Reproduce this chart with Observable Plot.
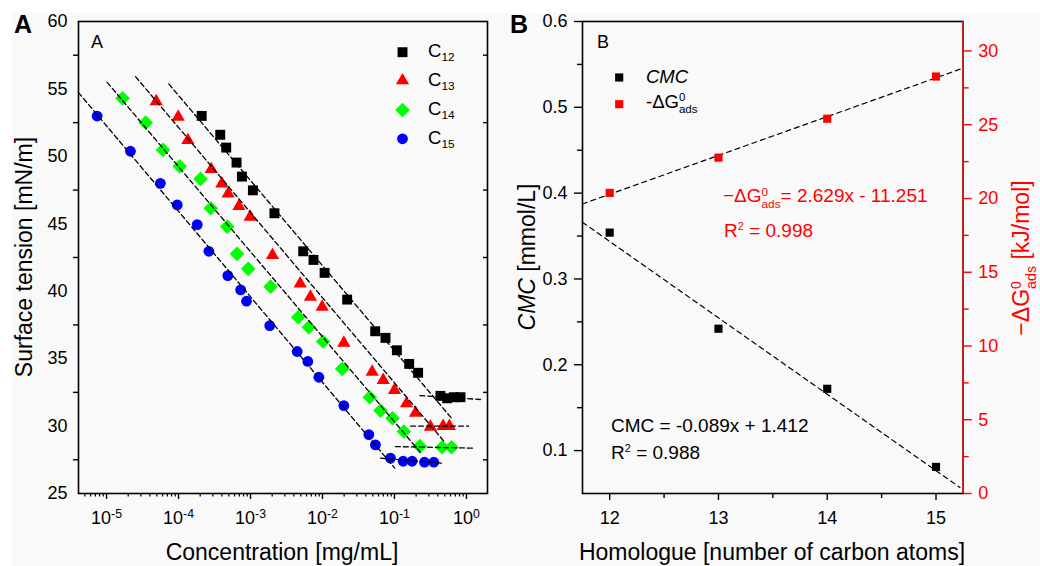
<!DOCTYPE html>
<html><head><meta charset="utf-8">
<script src="https://cdn.jsdelivr.net/npm/d3@7"></script>
<script src="https://cdn.jsdelivr.net/npm/@observablehq/plot@0.6"></script>
<style>
body{margin:0;background:#fff;font-family:"Liberation Sans",Arial,sans-serif;}
#wrap{position:relative;width:1040px;height:566px;overflow:hidden;}
#bg{position:absolute;left:12px;top:13px;right:0;bottom:0;background:#f9f9f9;}
.svgbox{position:absolute;top:0;}
.lbl{position:absolute;white-space:nowrap;line-height:1;transform:translateY(-50%);}
.ctr{position:absolute;white-space:nowrap;line-height:1;transform:translate(-50%,-50%);}
.rot{position:absolute;white-space:nowrap;line-height:1;transform:translate(-50%,-50%) rotate(-90deg);}
.sup{font-size:.62em;vertical-align:.55em;}
.sub{font-size:.62em;vertical-align:-.5em;}
.r2{font-size:.58em;vertical-align:.6em;}
.cs{font-size:.64em;vertical-align:-.4em;}
</style>
</head><body>
<div id="wrap">
<div id="bg"></div>
<div id="pa" class="svgbox" style="left:0"></div>
<div id="pb" class="svgbox" style="left:500px"></div>

<div class="lbl" style="left:14px;top:24px;font-size:25px;font-weight:bold;">A</div>
<div class="lbl" style="left:510px;top:24px;font-size:25px;font-weight:bold;">B</div>
<div class="lbl" style="left:91px;top:42px;font-size:18px;">A</div>
<div class="lbl" style="left:597px;top:42px;font-size:18px;">B</div>

<div class="lbl" style="left:428px;top:53px;font-size:18.5px;">C<span class="cs">12</span></div>
<div class="lbl" style="left:428px;top:82px;font-size:18.5px;">C<span class="cs">13</span></div>
<div class="lbl" style="left:428px;top:111px;font-size:18.5px;">C<span class="cs">14</span></div>
<div class="lbl" style="left:428px;top:140px;font-size:18.5px;">C<span class="cs">15</span></div>

<div class="lbl" style="left:646px;top:77px;font-size:18.5px;font-style:italic;">CMC</div>
<div class="lbl" style="left:646px;top:104px;font-size:18.5px;">-ΔG<span class="sup">0</span><span class="sub" style="margin-left:-0.556em">ads</span></div>

<div class="lbl" style="left:723px;top:198px;font-size:19px;color:#ff0000;">−ΔG<span class="sup">0</span><span class="sub" style="margin-left:-0.556em">ads</span>= 2.629x - 11.251</div>
<div class="lbl" style="left:724px;top:230px;font-size:19px;color:#ff0000;">R<span class="r2">2</span> = 0.998</div>
<div class="lbl" style="left:611px;top:425px;font-size:19px;">CMC = -0.089x + 1.412</div>
<div class="lbl" style="left:611px;top:452px;font-size:19px;">R<span class="r2">2</span> = 0.988</div>

<div class="rot" style="left:24px;top:257px;font-size:23px;">Surface tension [mN/m]</div>
<div class="ctr" style="left:282px;top:552px;font-size:23px;">Concentration [mg/mL]</div>
<div class="rot" style="left:527px;top:257px;font-size:23px;"><i>CMC</i> [mmol/L]</div>
<div class="ctr" style="left:772px;top:552px;font-size:23px;">Homologue [number of carbon atoms]</div>
<div class="rot" style="left:1024px;top:258px;font-size:23px;color:#ff0000;">−ΔG<span class="sup">0</span><span class="sub" style="margin-left:-0.556em">ads</span> [kJ/mol]</div>
</div>

<script>
// ---------- Panel A data ----------
const seriesNames = ["C12", "C13", "C14", "C15"];
const c12Conc = [2.1e-4, 3.8e-4, 4.6e-4, 6.4e-4, 7.6e-4, 1.08e-3, 2.15e-3, 5.4e-3, 7.5e-3, 0.0107, 0.022, 0.054, 0.075, 0.108, 0.16, 0.213, 0.435, 0.54, 0.667, 0.826];
const c12Tension = [53.0, 51.6, 50.65, 49.54, 48.5, 47.48, 45.78, 42.96, 42.32, 41.36, 39.38, 37.03, 36.54, 35.62, 34.61, 33.95, 32.24, 32.06, 32.14, 32.14];
const c13Conc = [4.9e-5, 9.9e-5, 1.35e-4, 2.85e-4, 4.0e-4, 4.9e-4, 6.9e-4, 9.9e-4, 2.02e-3, 4.9e-3, 6.8e-3, 9.9e-3, 0.0198, 0.049, 0.0697, 0.1, 0.147, 0.196, 0.316, 0.474, 0.58];
const c13Tension = [54.08, 52.92, 51.19, 49.04, 47.98, 47.24, 46.3, 45.51, 42.67, 40.56, 39.58, 38.84, 36.17, 34.02, 33.4, 32.66, 31.67, 30.98, 29.94, 29.99, 29.99];
const c14Conc = [1.67e-5, 3.5e-5, 6.1e-5, 1.04e-4, 2.02e-4, 2.81e-4, 4.75e-4, 6.5e-4, 9.3e-4, 1.9e-3, 4.6e-3, 6.45e-3, 0.0102, 0.0188, 0.0454, 0.064, 0.094, 0.135, 0.225, 0.46, 0.62];
const c14Tension = [54.3, 52.5, 50.48, 49.26, 48.33, 46.15, 44.79, 42.77, 41.66, 40.34, 38.07, 37.33, 36.27, 34.24, 32.14, 31.15, 30.58, 29.6, 28.51, 28.43, 28.43];
const c15Conc = [7.4e-6, 2.15e-5, 5.6e-5, 9.6e-5, 1.82e-4, 2.64e-4, 4.84e-4, 7.3e-4, 8.8e-4, 1.85e-3, 4.45e-3, 6.25e-3, 8.9e-3, 0.0198, 0.044, 0.0544, 0.088, 0.132, 0.176, 0.261, 0.352];
const c15Tension = [52.99, 50.38, 48.0, 46.4, 44.94, 42.96, 41.16, 40.1, 39.26, 37.45, 35.53, 34.79, 33.62, 31.52, 29.37, 28.61, 27.62, 27.39, 27.39, 27.32, 27.32];

// dashed fit lines (endpoints) : slope part and plateau part
const fit12Conc = [7.33e-5, 0.631], fit12Tension = [55.37, 30.54];
const plat12Conc = [0.225, 1.56], plat12Tension = [32.26, 31.97];
const fit13Conc = [2.53e-5, 0.482], fit13Tension = [55.91, 28.9];
const plat13Conc = [0.167, 1.07], plat13Tension = [30.0, 30.0];
const fit14Conc = [1.02e-5, 0.228], fit14Tension = [55.49, 28.06];
const plat14Conc = [0.103, 1.33], plat14Tension = [28.48, 28.36];
const fit15Conc = [4.05e-6, 0.101], fit15Tension = [54.75, 26.88];
const plat15Conc = [0.064, 0.484], plat15Tension = [27.62, 27.24];

const xDomainA = [4.08e-6, 1.96];
const yDomainA = [25, 60];
const yTicksA = [25, 30, 35, 40, 45, 50, 55, 60];
const yMinorA = [27.5, 32.5, 37.5, 42.5, 47.5, 52.5, 57.5];
const xTicksA = [1e-5, 1e-4, 1e-3, 1e-2, 1e-1, 1e0];

// ---------- Panel B data ----------
const homologue = [12, 13, 14, 15];
const cmcValues = [0.354, 0.242, 0.172, 0.081];
const dGValues = [20.38, 22.77, 25.41, 28.27];
const cmcFitX = [11.75, 15.22], cmcFitY = [0.366, 0.057];
const dGFitX = [11.75, 15.25], dGFitY = [19.63, 28.84];
const xDomainB = [11.75, 15.25];
const yDomainB = [0.05, 0.6];
const yRightDomainB = [0, 32];
const xTicksB = [12, 13, 14, 15];
const xMinorB = [12.5, 13.5, 14.5];
const yTicksB = [0.1, 0.2, 0.3, 0.4, 0.5, 0.6];
const yMinorB = [0.15, 0.25, 0.35, 0.45, 0.55];
const yRightTicksB = [0, 5, 10, 15, 20, 25, 30];
const yRightMinorB = [2.5, 7.5, 12.5, 17.5, 22.5, 27.5];

// ---------- build panel A ----------
const concs = [c12Conc, c13Conc, c14Conc, c15Conc];
const tens = [c12Tension, c13Tension, c14Tension, c15Tension];
const fits = [[fit12Conc, fit12Tension], [plat12Conc, plat12Tension], [fit13Conc, fit13Tension], [plat13Conc, plat13Tension],
              [fit14Conc, fit14Tension], [plat14Conc, plat14Tension], [fit15Conc, fit15Tension], [plat15Conc, plat15Tension]];
const symbolsA = ["square", "triangle", "diamond2", "circle"];
const colorsA = ["#000000", "#ff0000", "#00ff00", "#0000ff"];
const radiiA = [5.6, 4.9, 6.6, 5.4];

const pointsA = seriesNames.map((name, k) => concs[k].map((c, i) => ({series: name, c, t: tens[k][i]})));
const fitRows = fits.flatMap(([cs, ts], j) => cs.map((c, i) => ({seg: j, c, t: ts[i]})));

const minorLogA = [];
for (let e = -6; e <= 0; e++) for (let m = 2; m <= 9; m++) {
  const v = m * Math.pow(10, e);
  if (v > xDomainA[0] && v < xDomainA[1]) minorLogA.push(v);
}
const legendYA = [51.7, 80, 109.5, 138.3];

const plotA = Plot.plot({
  width: 520, height: 566,
  marginLeft: 78, marginRight: 33, marginTop: 21, marginBottom: 73,
  style: {background: "transparent", fontFamily: "Liberation Sans, Arial, sans-serif", fontSize: "18px", color: "black"},
  x: {type: "log", domain: xDomainA, label: null},
  y: {domain: yDomainA, label: null},
  marks: [
    Plot.axisY({ticks: yMinorA, tickSize: 5, strokeWidth: 1.4, tickFormat: () => "", label: null}),
    Plot.axisY({anchor: "right", ticks: yMinorA, tickSize: 5, dx: -5, strokeWidth: 1.4, tickFormat: () => "", label: null}),
    Plot.axisY({ticks: yTicksA, tickSize: 0, tickPadding: 11, fontSize: 18, label: null}),
    Plot.axisX({ticks: xTicksA, tickSize: 6, strokeWidth: 1.4, tickFormat: () => "", label: null}),
    Plot.axisX({ticks: minorLogA, tickSize: 3.5, strokeWidth: 1.2, tickFormat: () => "", label: null}),
    Plot.axisX({ticks: xTicksA, tickSize: 0, tickPadding: 18, fontSize: 18, label: null,
      tickFormat: d => "10^" + Math.round(Math.log10(d))}),
    ...pointsA.map((pts, k) => Plot.dot(pts, {x: "c", y: "t", symbol: () => symbolsA[k], fill: colorsA[k], stroke: "none", r: radiiA[k]})),
    Plot.line(fitRows, {x: "c", y: "t", z: "seg", stroke: "black", strokeWidth: 1.3, strokeDasharray: "5,3"}),
    ...seriesNames.map((n, k) => Plot.dot([n], {frameAnchor: "top-left", dx: 402 - 78, dy: legendYA[k] - 21,
      symbol: () => symbolsA[k], fill: colorsA[k], stroke: "none", r: radiiA[k]})),
    Plot.frame({stroke: "black", strokeWidth: 1.6})
  ]
});

// superscripts for 10^n tick labels
d3.select(plotA).selectAll("text").each(function () {
  const m = /^10\^(.+)$/.exec(this.textContent);
  if (m) {
    const el = d3.select(this);
    el.text(null);
    el.append("tspan").text("10");
    el.append("tspan").attr("dy", "-0.5em").attr("font-size", "0.68em").text(m[1]);
  }
});
document.getElementById("pa").appendChild(plotA);

// ---------- build panel B ----------
const toLeft = g => yDomainB[0] + (g - yRightDomainB[0]) / (yRightDomainB[1] - yRightDomainB[0]) * (yDomainB[1] - yDomainB[0]);
const fromLeft = v => yRightDomainB[0] + (v - yDomainB[0]) / (yDomainB[1] - yDomainB[0]) * (yRightDomainB[1] - yRightDomainB[0]);

const cmcRows = homologue.map((h, i) => ({h, v: cmcValues[i]}));
const dGRows = homologue.map((h, i) => ({h, v: toLeft(dGValues[i])}));
const cmcFitRows = cmcFitX.map((h, i) => ({h, v: cmcFitY[i]}));
const dGFitRows = dGFitX.map((h, i) => ({h, v: toLeft(dGFitY[i])}));
const legendB = [{name: "CMC", color: "#000000", y: 77}, {name: "-ΔG0ads", color: "#ff0000", y: 103.7}];

const plotB = Plot.plot({
  width: 540, height: 566,
  marginLeft: 82, marginRight: 77.3, marginTop: 21, marginBottom: 73,
  style: {background: "transparent", fontFamily: "Liberation Sans, Arial, sans-serif", fontSize: "18px", color: "black"},
  x: {domain: xDomainB, label: null},
  y: {domain: yDomainB, label: null},
  marks: [
    Plot.axisY({ticks: yTicksB, tickSize: 8, strokeWidth: 1.4, tickFormat: () => "", label: null}),
    Plot.axisY({ticks: yMinorB, tickSize: 5, strokeWidth: 1.4, tickFormat: () => "", label: null}),
    Plot.axisY({ticks: yTicksB, tickSize: 0, tickPadding: 15, fontSize: 18, label: null, tickFormat: d3.format(".1f")}),
    Plot.axisX({ticks: xTicksB, tickSize: 7, strokeWidth: 1.4, tickFormat: () => "", label: null}),
    Plot.axisX({ticks: xMinorB, tickSize: 5, strokeWidth: 1.4, tickFormat: () => "", label: null}),
    Plot.axisX({ticks: xTicksB, tickSize: 0, tickPadding: 18, fontSize: 18, label: null, tickFormat: d3.format("d")}),
    Plot.axisY({anchor: "right", ticks: yRightTicksB.map(toLeft), tickSize: 8, stroke: "#ff0000", strokeWidth: 1.4, tickFormat: () => "", label: null}),
    Plot.axisY({anchor: "right", ticks: yRightMinorB.map(toLeft), tickSize: 5, stroke: "#ff0000", strokeWidth: 1.4, tickFormat: () => "", label: null}),
    Plot.axisY({anchor: "right", ticks: yRightTicksB.map(toLeft), tickSize: 0, tickPadding: 15, fontSize: 18, fill: "#ff0000", label: null,
      tickFormat: v => String(Math.round(fromLeft(v)))}),
    Plot.line(cmcFitRows, {x: "h", y: "v", stroke: "black", strokeWidth: 1.2, strokeDasharray: "5,4"}),
    Plot.line(dGFitRows, {x: "h", y: "v", stroke: "black", strokeWidth: 1.2, strokeDasharray: "5,4"}),
    Plot.dot(cmcRows, {x: "h", y: "v", symbol: "square", fill: "#000000", r: 4.6}),
    Plot.dot(dGRows, {x: "h", y: "v", symbol: "square", fill: "#ff0000", r: 4.6}),
    ...legendB.map(d => Plot.dot([d], {frameAnchor: "top-left", dx: 618.7 - 582, dy: d.y - 21, symbol: "square", fill: d.color, r: 4.6})),
    Plot.frame({stroke: "black", strokeWidth: 1.6}),
    Plot.ruleX([xDomainB[1]], {stroke: "#ff0000", strokeWidth: 1.6})
  ]
});
document.getElementById("pb").appendChild(plotB);
</script>
</body></html>
